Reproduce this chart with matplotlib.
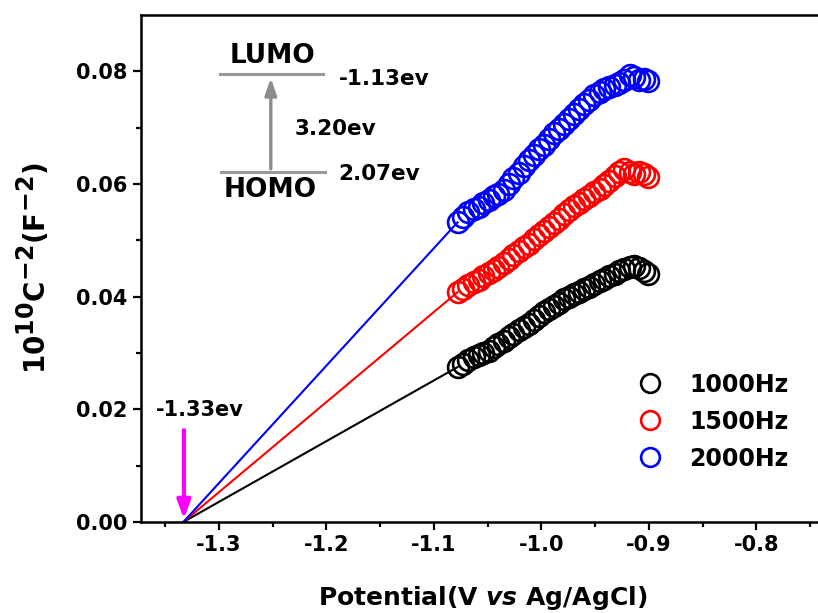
import matplotlib
matplotlib.use("Agg")
import matplotlib.pyplot as plt
import matplotlib._mathtext as mathtext_internal

# potential (V vs Ag/AgCl), shared by the three frequencies
potential = [-1.078, -1.073, -1.068, -1.063, -1.058, -1.054, -1.049, -1.044, -1.040, -1.035,
             -1.030, -1.026, -1.021, -1.016, -1.012, -1.007, -1.002, -0.998, -0.993, -0.988,
             -0.984, -0.979, -0.974, -0.970, -0.965, -0.960, -0.956, -0.951, -0.946, -0.942,
             -0.937, -0.932, -0.928, -0.923, -0.918, -0.914, -0.909, -0.905, -0.901]

c2_1000 = [0.0275, 0.0281, 0.0288, 0.0293, 0.0297, 0.0300, 0.0304, 0.0310, 0.0316, 0.0322,
           0.0328, 0.0333, 0.0340, 0.0346, 0.0351, 0.0358, 0.0366, 0.0372, 0.0378, 0.0383,
           0.0389, 0.0395, 0.0400, 0.0405, 0.0409, 0.0413, 0.0417, 0.0422, 0.0428, 0.0432,
           0.0436, 0.0441, 0.0445, 0.0449, 0.0453, 0.0454, 0.0450, 0.0445, 0.0441]

c2_1500 = [0.0408, 0.0413, 0.0420, 0.0426, 0.0430, 0.0436, 0.0442, 0.0448, 0.0453, 0.0460,
           0.0467, 0.0474, 0.0481, 0.0488, 0.0494, 0.0502, 0.0509, 0.0516, 0.0524, 0.0531,
           0.0538, 0.0546, 0.0553, 0.0561, 0.0567, 0.0573, 0.0579, 0.0586, 0.0592, 0.0598,
           0.0606, 0.0614, 0.0621, 0.0626, 0.0622, 0.0618, 0.0622, 0.0617, 0.0613]

c2_2000 = [0.0532, 0.0542, 0.0550, 0.0556, 0.0560, 0.0566, 0.0572, 0.0578, 0.0583, 0.0590,
           0.0600, 0.0610, 0.0620, 0.0632, 0.0642, 0.0652, 0.0662, 0.0670, 0.0680, 0.0690,
           0.0698, 0.0707, 0.0715, 0.0724, 0.0733, 0.0742, 0.0750, 0.0758, 0.0764, 0.0768,
           0.0772, 0.0776, 0.0779, 0.0785, 0.0793, 0.0790, 0.0784, 0.0786, 0.0782]

labels = ["1000Hz", "1500Hz", "2000Hz"]
colors = ["black", "red", "blue"]
series = [c2_1000, c2_1500, c2_2000]

# flat-band intercept shared by the linear fits
intercept = -1.333

plt.rcParams["font.family"] = ["DejaVu Sans"]
plt.rcParams["font.weight"] = "bold"
plt.rcParams["mathtext.fontset"] = "dejavusans"
plt.rcParams["mathtext.default"] = "bf"
# superscripts in the original are nearly full size
mathtext_internal.SHRINK_FACTOR = 0.85

fig = plt.figure(figsize=(8.18, 6.13), dpi=100)
ax = fig.add_axes([0.1724, 0.1485, 0.836, 0.827])

for y, c, lab in zip(series, colors, labels):
    ax.plot([intercept, potential[0]], [0, y[0]], color=c, lw=1.5, zorder=2)
    ax.plot(potential, y, "o", ms=15, mfc="none", mec=c, mew=1.9, label=lab, zorder=3)

ax.set_xlim(-1.3724, -0.7364)
ax.set_ylim(0, 0.09)
ax.set_xticks([-1.3, -1.2, -1.1, -1.0, -0.9, -0.8])
ax.set_xticklabels(["-1.3", "-1.2", "-1.1", "-1.0", "-0.9", "-0.8"])
ax.set_xticks([-1.35, -1.25, -1.15, -1.05, -0.95, -0.85, -0.75], minor=True)
ax.set_yticks([0.00, 0.02, 0.04, 0.06, 0.08])
ax.set_yticklabels(["0.00", "0.02", "0.04", "0.06", "0.08"])
ax.set_yticks([0.01, 0.03, 0.05, 0.07], minor=True)
ax.tick_params(which="major", length=6, width=1.6, labelsize=15, direction="out")
ax.tick_params(which="minor", length=3.5, width=1.6, direction="out")
for s in ax.spines.values():
    s.set_linewidth(1.8)

ax.set_xlabel(r"Potential(V $\mathbfit{vs}$ Ag/AgCl)", fontsize=18, fontweight="bold", labelpad=21)
ax.set_ylabel(r"$10^{10}C^{-2}(F^{-2})$", fontsize=20, labelpad=18)

# energy level sketch
gray = "#999999"
ax.plot([-1.299, -1.2034], [0.0795, 0.0795], color=gray, lw=2.2)
ax.plot([-1.298, -1.2015], [0.0622, 0.0622], color=gray, lw=2.2)
ax.annotate("", xy=(-1.2517, 0.0793), xytext=(-1.2517, 0.0622),
            arrowprops=dict(arrowstyle="-|>,head_length=1.0,head_width=0.35", color="#8c8c8c", lw=2.4))
ax.text(-1.250, 0.0827, "LUMO", fontsize=19, ha="center", va="center")
ax.text(-1.252, 0.0590, "HOMO", fontsize=19, ha="center", va="center")
ax.text(-1.1886, 0.0786, "-1.13ev", fontsize=15.5, va="center")
ax.text(-1.230, 0.0697, "3.20ev", fontsize=15.5, va="center")
ax.text(-1.189, 0.0617, "2.07ev", fontsize=15.5, va="center")

# intercept marker
ax.text(-1.3585, 0.0199, "-1.33ev", fontsize=15, va="center")
ax.annotate("", xy=(-1.3325, 0.0), xytext=(-1.3325, 0.0168),
            arrowprops=dict(arrowstyle="-|>,head_length=1.1,head_width=0.4", color="magenta", lw=3.0))

ax.legend(loc="upper left", bbox_to_anchor=(-0.910, 0.0265), bbox_transform=ax.transData,
          frameon=False, fontsize=17, handlelength=1.0, handletextpad=1.15, borderpad=0,
          borderaxespad=0, labelspacing=0.55, markerscale=0.9, numpoints=1)

fig.savefig("out.png", dpi=100)
